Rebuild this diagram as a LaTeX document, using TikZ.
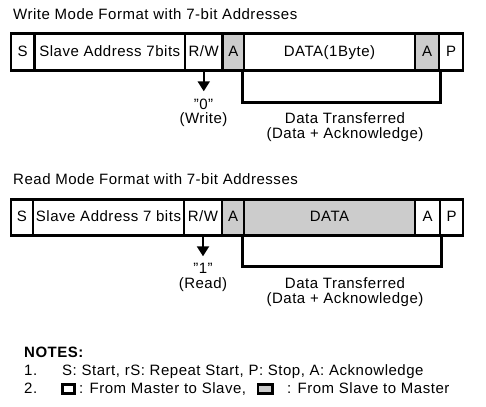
\documentclass[tikz,border=0pt]{standalone}
\usepackage{fontspec}
\setmainfont{Liberation Sans}[LetterSpace=3.5]
\usetikzlibrary{arrows.meta,calc}
\definecolor{slavegray}{RGB}{204,204,204}
\begin{document}
\begin{tikzpicture}[x=1pt,y=-1pt,
  every node/.style={font=\fontsize{15}{15}\selectfont, inner sep=0pt},
  field/.style={draw, line width=2.6pt, minimum height=#1, text height=10.8pt, text depth=2pt},
  field/.default=37pt,
  slave/.style={fill=slavegray},
  bracket/.style={line width=2.6pt},
  pointer/.style={line width=2pt, -{Triangle[width=12pt,length=10pt]}},
  lbl/.style={anchor=base},
  txt/.style={anchor=base west},
  keybox/.style={draw, line width=2.6pt, minimum width=#1, minimum height=9.4pt}
]
\useasboundingbox (0,0) rectangle (486,406);

% ---------- Write mode ----------
\node[txt] (wtitle) at (13,19.5) {Write Mode Format with 7-bit Addresses};
\node[field, minimum width=23.5pt] (wS) at (22.75,52) {S};
\node[field, minimum width=150.5pt] (wAddr) at (109.75,52) {Slave Address 7bits};
\node[field, minimum width=37.5pt] (wRW) at (203.75,52) {R/W};
\node[field, slave, minimum width=21.5pt] (wA) at (233.25,52) {A};
\node[field, minimum width=171pt] (wData) at (329.5,52) {DATA(1Byte)};
\node[field, slave, minimum width=24pt] (wA2) at (427,52) {A};
\node[field, minimum width=24pt] (wP) at (451,52) {P};

\coordinate (wtip) at ($(wRW.south)+(0,19.5)$);
\draw[pointer] (wRW.south) -- (wtip);
\node[lbl] (wzero) at (203.5,109.5) {"0"};
\node[lbl] (wwrite) at (203.5,124) {(Write)};

\coordinate (wbl) at ($(wData.south west)+(0,30.5)$);
\draw[bracket] (wData.south west) -- (wbl) -| (wA2.south east);
\node[lbl] (wdt1) at (345,124) {Data Transferred};
\node[lbl] (wdt2) at (345,138.5) {(Data + Acknowledge)};

% ---------- Read mode ----------
\node[txt] (rtitle) at (13,184.5) {Read Mode Format with 7-bit Addresses};
\node[field=36pt, minimum width=22pt] (rS) at (22,217.5) {S};
\node[field=36pt, minimum width=151pt] (rAddr) at (108.5,217.5) {Slave Address 7 bits};
\node[field=36pt, minimum width=38pt] (rRW) at (203,217.5) {R/W};
\node[field=36pt, slave, minimum width=22pt] (rA) at (233,217.5) {A};
\node[field=36pt, slave, minimum width=171pt] (rData) at (329.5,217.5) {DATA};
\node[field=36pt, minimum width=25pt] (rA2) at (427.5,217.5) {A};
\node[field=36pt, minimum width=23pt] (rP) at (451.5,217.5) {P};

\coordinate (rtip) at ($(rRW.south)+(0,19.5)$);
\draw[pointer] (rRW.south) -- (rtip);
\node[lbl] (rone) at (203,273.5) {"1"};
\node[lbl] (rread) at (203,288.5) {(Read)};

\coordinate (rbl) at ($(rData.south west)+(0,29.5)$);
\draw[bracket] (rData.south west) -- (rbl) -| (rA2.south east);
\node[lbl] (rdt1) at (345,288.5) {Data Transferred};
\node[lbl] (rdt2) at (345,303) {(Data + Acknowledge)};

% ---------- Notes ----------
\node[txt, font=\fontsize{15}{15}\selectfont\bfseries] (notes) at (24,357) {NOTES:};
\node[txt] (n1) at (24,375) {1.};
\node[txt] (n1t) at (62,375) {S: Start, rS: Repeat Start, P: Stop, A: Acknowledge};
\node[txt] (n2) at (24,393.5) {2.};
\node[keybox=12.4pt] (kmaster) at (68.5,389) {};
\node[txt] (n2a) at (79,393.5) {: From Master to Slave,};
\node[keybox=14.4pt, fill=slavegray] (kslave) at (265,389) {};
\node[txt] (n2b) at (287,393.5) {: From Slave to Master};
\end{tikzpicture}
\end{document}
